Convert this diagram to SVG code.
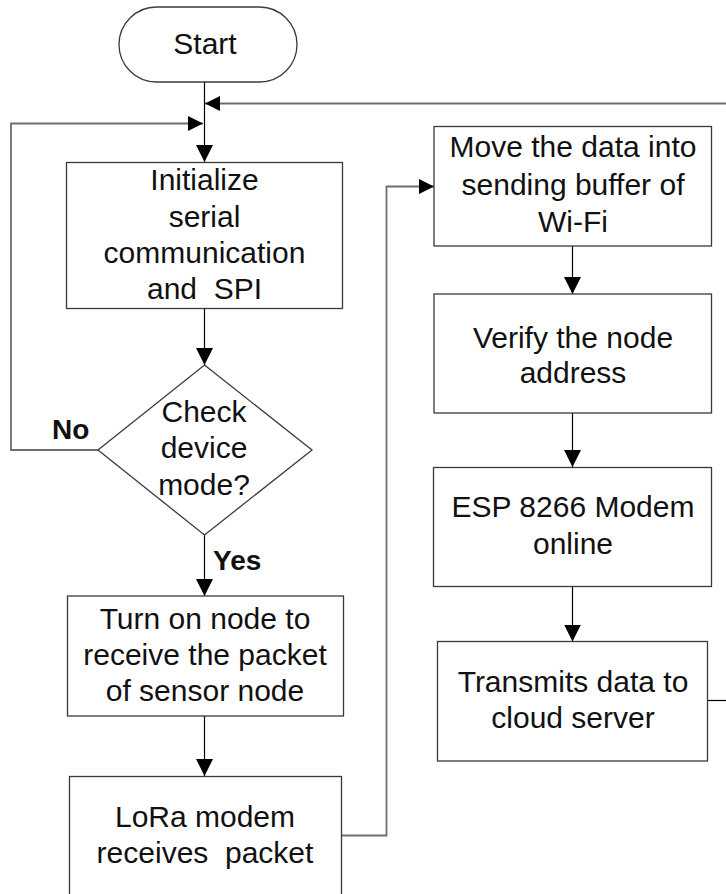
<svg xmlns="http://www.w3.org/2000/svg" width="726" height="894" viewBox="0 0 726 894">
  <style>
    .box { fill: #ffffff; stroke: #3a3a3a; stroke-width: 1.3; }
    .lbl { font-family: "Liberation Sans", Arial, sans-serif; font-size: 30px; fill: #111111; text-anchor: middle; }
    .tag { font-family: "Liberation Sans", Arial, sans-serif; font-size: 28px; font-weight: bold; fill: #111111; }
    .link { fill: none; stroke: #000000; stroke-width: 1.2; }
    .loop { fill: none; stroke: #6e6e6e; stroke-width: 1.8; }
  </style>
  <defs>
    <marker id="arrow" viewBox="0 0 17 17" refX="17" refY="8.5" markerWidth="17" markerHeight="17" markerUnits="userSpaceOnUse" orient="auto">
      <path d="M0,0 L17,8.5 L0,17 Z" fill="#000000"/>
    </marker>
    <marker id="arrow-sm" viewBox="0 0 15 15" refX="15" refY="7.5" markerWidth="15" markerHeight="15" markerUnits="userSpaceOnUse" orient="auto">
      <path d="M0,0 L15,7.5 L0,15 Z" fill="#000000"/>
    </marker>
  </defs>

  <rect width="726" height="894" fill="#ffffff"/>

  <!-- connectors -->
  <g id="connectors">
    <line class="link" x1="204.5" y1="82" x2="204.5" y2="162" marker-end="url(#arrow)"/>
    <line class="loop" x1="726" y1="103.5" x2="205" y2="103.5" marker-end="url(#arrow-sm)"/>
    <polyline class="loop" points="98,450 11,450 11,123.5 203,123.5" marker-end="url(#arrow-sm)"/>
    <line class="link" x1="204.5" y1="308" x2="204.5" y2="365" marker-end="url(#arrow)"/>
    <line class="link" x1="204.5" y1="535" x2="204.5" y2="596" marker-end="url(#arrow)"/>
    <line class="link" x1="204.5" y1="716" x2="204.5" y2="776" marker-end="url(#arrow)"/>
    <polyline class="loop" points="342,835.5 386.5,835.5 386.5,186.5 434,186.5" marker-end="url(#arrow-sm)"/>
    <line class="link" x1="572.5" y1="246" x2="572.5" y2="294" marker-end="url(#arrow)"/>
    <line class="link" x1="572.5" y1="413" x2="572.5" y2="467" marker-end="url(#arrow)"/>
    <line class="link" x1="572.5" y1="587" x2="572.5" y2="641.5" marker-end="url(#arrow)"/>
    <line class="link" x1="708" y1="700.5" x2="726" y2="700.5"/>
    <text class="tag" x="52" y="439">No</text>
    <text class="tag" x="213" y="570" font-size="29">Yes</text>
  </g>

  <g id="start">
    <rect class="box" x="119" y="7" width="178" height="75" rx="37.5" ry="37.5"/>
    <text class="lbl" x="205" y="54">Start</text>
  </g>

  <g id="init">
    <rect class="box" x="66.5" y="162.5" width="276" height="146"/>
    <text class="lbl" x="204.5" y="190">Initialize</text>
    <text class="lbl" x="204.5" y="227">serial</text>
    <text class="lbl" x="204.5" y="263">communication</text>
    <text class="lbl" x="204.5" y="299" xml:space="preserve">and  SPI</text>
  </g>

  <g id="check-mode">
    <polygon class="box" points="204.5,365 312,450 204.5,535 98,450" stroke="#000000" stroke-width="1"/>
    <text class="lbl" x="204" y="422">Check</text>
    <text class="lbl" x="204" y="458">device</text>
    <text class="lbl" x="204" y="495">mode?</text>
  </g>

  <g id="turn-on">
    <rect class="box" x="67.5" y="596" width="276" height="120"/>
    <text class="lbl" x="205" y="629">Turn on node to</text>
    <text class="lbl" x="205" y="665">receive the packet</text>
    <text class="lbl" x="205" y="701">of sensor node</text>
  </g>

  <g id="lora-receive">
    <rect class="box" x="69.5" y="776.5" width="272" height="140"/>
    <text class="lbl" x="205" y="827">LoRa modem</text>
    <text class="lbl" x="205" y="863" xml:space="preserve">receives  packet</text>
  </g>

  <g id="wifi-buffer">
    <rect class="box" x="434" y="126.5" width="277.5" height="119.5"/>
    <text class="lbl" x="573" y="157">Move the data into</text>
    <text class="lbl" x="573" y="195">sending buffer of</text>
    <text class="lbl" x="573" y="232">Wi-Fi</text>
  </g>

  <g id="verify-address">
    <rect class="box" x="434" y="294" width="277.5" height="119"/>
    <text class="lbl" x="573" y="348">Verify the node</text>
    <text class="lbl" x="573" y="383">address</text>
  </g>

  <g id="esp-online">
    <rect class="box" x="433.5" y="467.5" width="278" height="119"/>
    <text class="lbl" x="573" y="517">ESP 8266 Modem</text>
    <text class="lbl" x="573" y="554">online</text>
  </g>

  <g id="transmit">
    <rect class="box" x="437.5" y="641.5" width="270" height="119.5"/>
    <text class="lbl" x="573" y="692">Transmits data to</text>
    <text class="lbl" x="573" y="728">cloud server</text>
  </g>
</svg>
